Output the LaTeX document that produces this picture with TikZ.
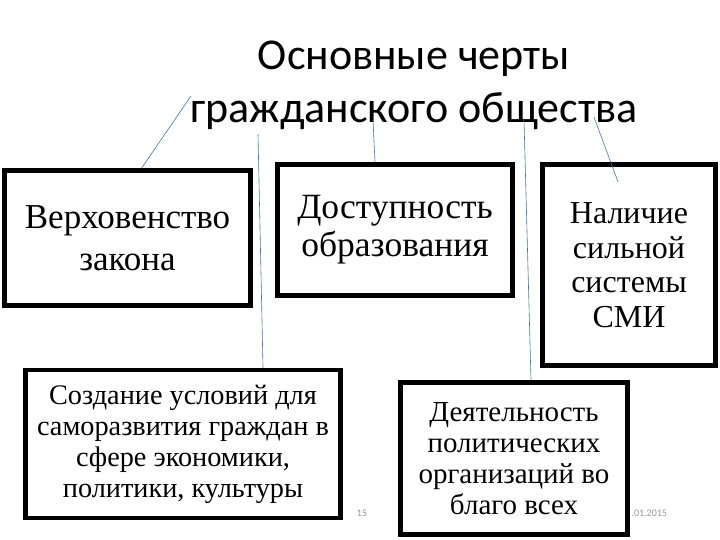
\documentclass[tikz,border=0pt]{standalone}
\usepackage{fontspec}
\setmainfont{Liberation Serif}
\newfontfamily\titlefont{Carlito}
\usepackage{xcolor}
\usepackage{tikz}
\definecolor{linkblue}{RGB}{70,118,160}
\definecolor{footgrey}{RGB}{150,150,150}

\begin{document}
\begin{tikzpicture}[x=1pt,y=1pt,
        feature/.style={draw,fill=white,line width=4.5pt,align=center,inner sep=0pt},
        link/.style={linkblue,line width=0.6pt},
        foot/.style={footgrey,font=\titlefont\fontsize{10}{11}\selectfont}]
        \useasboundingbox (0,0) rectangle (720,540);

        % footer
        \node[foot] (num) at (362,27) {15};
        \node[foot,anchor=west] (date) at (628,27) {.01.2015};

        \node[align=center,font=\titlefont\fontsize{44}{53}\selectfont] (title) at (414,455)
            {Основные черты\\гражданского общества};

        \node[feature,minimum width=246,minimum height=135,font=\fontsize{35}{42}\selectfont]
            (verh) at (127.5,302) {Верховенство\\закона};
        \node[feature,minimum width=235,minimum height=131,font=\fontsize{35.5}{38}\selectfont]
            (dost) at (395,310) {Доступность\\образования};
        \node[feature,minimum width=173,minimum height=201,font=\fontsize{32}{34.5}\selectfont]
            (smi) at (629,275) {Наличие\\сильной\\системы\\СМИ};
        \node[feature,minimum width=315,minimum height=148,font=\fontsize{28.3}{31}\selectfont]
            (usl) at (183,96) {Создание условий для\\саморазвития граждан в\\сфере экономики,\\политики, культуры};
        \node[feature,minimum width=227,minimum height=152,font=\fontsize{29}{31}\selectfont]
            (deyat) at (514,81.5) {Деятельность\\политических\\организаций во\\благо всех};

        \coordinate (t1) at (191,444);
        \coordinate (t2) at (258,406);
        \coordinate (t3) at (373,420);
        \coordinate (t4) at (524,420);
        \coordinate (t5) at (594,423);
        \coordinate (s5) at (618,358);

        \draw[link] (t1) -- ([xshift=14]verh.north);
        \draw[link] (t2) -- ([xshift=80]usl.north);
        \draw[link] (t3) -- ([xshift=-20]dost.north);
        \draw[link] (t4) -- ([xshift=17]deyat.north);
        \draw[link] (t5) -- (s5);
\end{tikzpicture}
\end{document}
